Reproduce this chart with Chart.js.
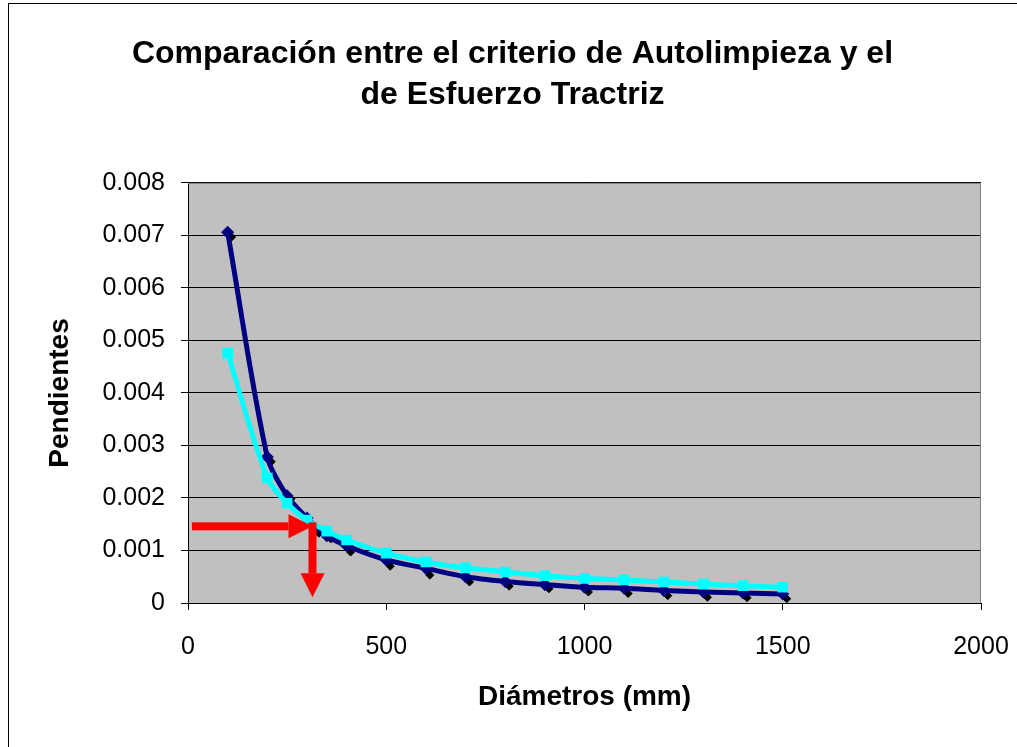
<!DOCTYPE html>
<html>
<head>
<meta charset="utf-8">
<script src="https://cdn.jsdelivr.net/npm/chart.js@4/dist/chart.umd.min.js"></script>
<style>
  html, body { margin: 0; padding: 0; background: #fff; }
  canvas { display: block; }
</style>
</head>
<body>
<canvas id="pendChart" width="1017" height="747"></canvas>
<script>
// Diámetros (mm) and slopes
const diametros = [100, 200, 250, 300, 350, 400, 500, 600, 700, 800, 900, 1000, 1100, 1200, 1300, 1400, 1500];
const pendAutolimpieza = [0.00706, 0.00278, 0.00204, 0.00162, 0.00128, 0.00109, 0.00082, 0.00066, 0.0005, 0.00041, 0.00035, 0.0003, 0.00028, 0.00024, 0.00021, 0.00019, 0.00017];
const pendTractriz = [0.00476, 0.00238, 0.0019, 0.00158, 0.00137, 0.0012, 0.00095, 0.00078, 0.00067, 0.00059, 0.00052, 0.00047, 0.00044, 0.0004, 0.00036, 0.00033, 0.0003];
// loose black points
const diamPuntos = [110, 210, 260, 330, 360, 410, 510, 610, 710, 810, 910, 1010, 1110, 1210, 1310, 1410, 1510];
const pendPuntos = [0.00697, 0.00269, 0.00198, 0.00133, 0.00122, 0.00097, 0.0007, 0.00053, 0.0004, 0.00032, 0.00027, 0.00021, 0.00018, 0.00014, 0.00011, 0.0001, 0.00008];
// red arrows (data coords): horizontal then vertical
const flechaH = [10, 314, 0.00146];   // x from, x to, y
const flechaV = [314, 0.00146, 0.00011]; // x, y from, y to

const xTicks = [0, 500, 1000, 1500, 2000];
const yTicks = [0, 0.001, 0.002, 0.003, 0.004, 0.005, 0.006, 0.007, 0.008];

const FONT = "Arial, 'Liberation Sans', sans-serif";

function toPts(xs, ys) {
  return xs.map((x, i) => ({ x: x, y: ys[i] }));
}

// plot background, outer frame and arrows
const decoPlugin = {
  id: 'deco',
  beforeDraw(chart) {
    const { ctx, chartArea: a } = chart;
    ctx.save();
    ctx.fillStyle = '#fff';
    ctx.fillRect(0, 0, chart.width, chart.height);
    ctx.fillStyle = '#c0c0c0';
    ctx.fillRect(a.left, a.top, a.right - a.left, a.bottom - a.top);
    ctx.strokeStyle = '#000';
    ctx.lineWidth = 1;
    ctx.strokeRect(8.5, 3.5, chart.width + 20, chart.height + 20);
    ctx.restore();
  },
  afterDraw(chart) {
    const { ctx, chartArea: a } = chart;
    const xs = chart.scales.x, ys = chart.scales.y;
    ctx.save();
    ctx.strokeStyle = '#808080';
    ctx.lineWidth = 1;
    ctx.beginPath();
    ctx.moveTo(a.left, a.top + 0.5);
    ctx.lineTo(a.right - 0.5, a.top + 0.5);
    ctx.lineTo(a.right - 0.5, a.bottom);
    ctx.stroke();

    ctx.fillStyle = '#ff0000';
    const shaft = 8, headW = 24, headL = 24;
    // horizontal arrow
    let x0 = xs.getPixelForValue(flechaH[0]);
    let x1 = xs.getPixelForValue(flechaH[1]);
    let y = ys.getPixelForValue(flechaH[2]);
    ctx.fillRect(x0, y - shaft / 2, x1 - headL - x0, shaft);
    ctx.beginPath();
    ctx.moveTo(x1 - headL, y - headW / 2);
    ctx.lineTo(x1, y);
    ctx.lineTo(x1 - headL, y + headW / 2);
    ctx.closePath();
    ctx.fill();
    // vertical arrow
    let x = xs.getPixelForValue(flechaV[0]);
    let y0 = ys.getPixelForValue(flechaV[1]);
    let y1 = ys.getPixelForValue(flechaV[2]);
    ctx.fillRect(x - shaft / 2, y0 - shaft / 2, shaft, y1 - headL - y0 + shaft / 2);
    ctx.beginPath();
    ctx.moveTo(x - headW / 2, y1 - headL);
    ctx.lineTo(x, y1);
    ctx.lineTo(x + headW / 2, y1 - headL);
    ctx.closePath();
    ctx.fill();
    ctx.restore();
  }
};

try {
  const ctx = document.getElementById('pendChart').getContext('2d');
  new Chart(ctx, {
    type: 'scatter',
    data: {
      datasets: [
        {
          label: 'Tractriz',
          data: toPts(diametros, pendTractriz),
          showLine: true,
          borderColor: '#00ffff',
          backgroundColor: '#00ffff',
          borderWidth: 5,
          pointStyle: 'rect',
          pointRadius: 4,
          tension: 0.3,
          order: 0
        },
        {
          label: 'Autolimpieza',
          data: toPts(diametros, pendAutolimpieza),
          showLine: true,
          borderColor: '#000080',
          backgroundColor: '#000080',
          borderWidth: 5,
          pointStyle: 'rectRot',
          pointRadius: 3,
          tension: 0.3,
          order: 1
        },
        {
          label: 'Puntos',
          data: toPts(diamPuntos, pendPuntos),
          showLine: false,
          borderColor: '#000',
          backgroundColor: '#000',
          pointStyle: 'rectRot',
          pointRadius: 4,
          order: 2
        }
      ]
    },
    options: {
      responsive: false,
      animation: false,
      layout: { padding: { left: 8, right: 0, top: 0, bottom: 0 } },
      plugins: {
        legend: { display: false },
        tooltip: { enabled: false },
        title: {
          display: true,
          text: ['Comparación entre el criterio de Autolimpieza y el', 'de Esfuerzo Tractriz'],
          color: '#000',
          font: { family: FONT, size: 32, weight: 'bold', lineHeight: 1.28 },
          padding: { top: 34, bottom: 67 }
        }
      },
      scales: {
        x: {
          type: 'linear',
          min: 0,
          max: 2000,
          afterBuildTicks: s => { s.ticks = xTicks.map(v => ({ value: v })); },
          afterFit: s => { s.height = 144; s.paddingRight = 36; },
          ticks: {
            color: '#000',
            font: { family: FONT, size: 25 },
            padding: 22,
            maxRotation: 0,
            callback: v => String(v)
          },
          grid: { drawOnChartArea: false, color: '#000', tickLength: 7 },
          border: { color: '#000', width: 1 },
          title: {
            display: true,
            text: 'Diámetros (mm)',
            color: '#000',
            font: { family: FONT, size: 28, weight: 'bold' },
            padding: { top: 0, bottom: 33 }
          }
        },
        y: {
          type: 'linear',
          min: 0,
          max: 0.008,
          afterBuildTicks: s => { s.ticks = yTicks.map(v => ({ value: v })); },
          afterFit: s => { s.width = 180; },
          ticks: {
            color: '#000',
            font: { family: FONT, size: 25 },
            padding: 16,
            callback: v => v === 0 ? '0' : v.toFixed(3)
          },
          grid: { color: '#000', tickLength: 7 },
          border: { color: '#000', width: 1 },
          title: {
            display: true,
            text: 'Pendientes',
            color: '#000',
            font: { family: FONT, size: 28, weight: 'bold' },
            padding: { top: 35, bottom: 0 }
          }
        }
      }
    },
    plugins: [decoPlugin]
  });
} catch (error) {
  console.error('Error drawing chart:', error);
}
</script>
</body>
</html>
